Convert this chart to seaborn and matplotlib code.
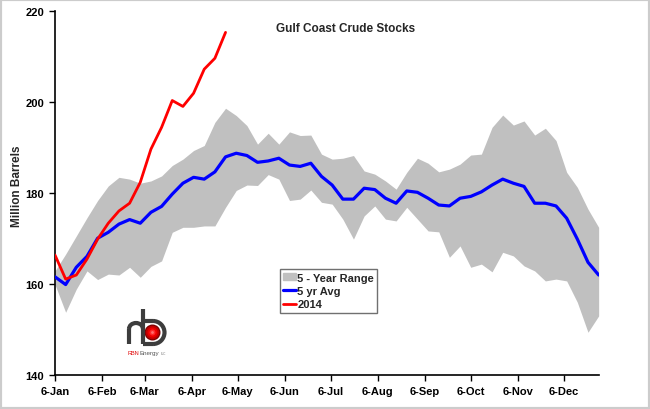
import matplotlib
matplotlib.use("Agg")
import matplotlib.pyplot as plt
import matplotlib.patches as mpatches
import matplotlib.dates as mdates
from matplotlib.lines import Line2D
import seaborn as sns
import pandas as pd

# ---------------------------------------------------------------
# data (weekly, million barrels)
# ---------------------------------------------------------------
weeks = pd.date_range("2014-01-06", periods=52, freq="7D")

range_low = [159.8, 153.7, 158.8, 162.8, 160.9, 162.1, 161.9, 163.6, 161.4, 163.8,
             165.0, 171.3, 172.4, 172.4, 172.7, 172.7, 176.8, 180.5, 181.7, 181.6,
             184.0, 183.0, 178.3, 178.6, 180.6, 177.9, 177.5, 174.2, 169.8, 174.9,
             177.1, 174.2, 173.8, 176.8, 174.2, 171.6, 171.4, 165.8, 168.3, 163.6,
             164.3, 162.6, 166.9, 166.1, 163.9, 162.8, 160.6, 161.0, 160.6, 155.9,
             149.3, 152.9]

range_high = [162.8, 166.5, 170.5, 174.5, 178.3, 181.5, 183.4, 183.0, 182.1, 182.6,
              183.7, 186.0, 187.4, 189.3, 190.4, 195.5, 198.6, 197.0, 194.8, 190.7,
              193.1, 190.7, 193.4, 192.6, 192.7, 188.5, 187.4, 187.6, 188.2, 184.8,
              184.1, 182.6, 180.8, 184.5, 187.6, 186.5, 184.6, 185.2, 186.3, 188.3,
              188.5, 194.4, 197.1, 194.9, 195.8, 192.7, 194.2, 191.5, 184.5, 181.2,
              176.4, 172.4]

avg_5yr = [161.5, 159.8, 163.6, 166.0, 170.0, 171.3, 173.1, 174.1, 173.3, 175.7,
           177.0, 179.7, 182.1, 183.4, 183.0, 184.6, 187.9, 188.7, 188.2, 186.7,
           187.0, 187.6, 186.1, 185.8, 186.5, 183.6, 181.7, 178.6, 178.6, 181.0,
           180.7, 178.8, 177.7, 180.4, 180.1, 178.8, 177.3, 177.1, 178.8, 179.2,
           180.2, 181.7, 183.0, 182.1, 181.4, 177.7, 177.7, 177.1, 174.4, 169.8,
           164.7, 161.9]

stocks_2014 = [166.3, 161.0, 161.9, 165.4, 169.8, 173.3, 176.0, 177.7, 182.3, 189.6,
               194.4, 200.3, 199.0, 201.9, 207.2, 209.6, 215.3]

month_ticks = pd.date_range("2014-01-06", periods=12, freq=pd.DateOffset(months=1))
y_ticks = [140, 160, 180, 200, 220]

df_avg = pd.DataFrame({"week": weeks, "stocks": avg_5yr})
df_2014 = pd.DataFrame({"week": weeks[:len(stocks_2014)], "stocks": stocks_2014})

# ---------------------------------------------------------------
# style
# ---------------------------------------------------------------
sns.set_style("ticks")
plt.rcParams.update({
    "font.family": ["Liberation Sans", "DejaVu Sans"],
    "font.weight": "bold",
    "axes.linewidth": 1.2,
    "xtick.major.width": 1.0,
    "ytick.major.width": 1.0,
    "xtick.major.size": 4,
    "ytick.major.size": 4,
    "xtick.direction": "out",
    "ytick.direction": "out",
})

fig = plt.figure(figsize=(6.5, 4.1), dpi=100)
ax = fig.add_axes([0.0846, 0.0841, 0.8364, 0.8866])

BAND = "#c0c0c0"
ax.fill_between(weeks, range_low, range_high, color=BAND, lw=0, zorder=1)
sns.lineplot(data=df_avg, x="week", y="stocks", color="#0000ff", lw=2.3, ax=ax, zorder=3)
sns.lineplot(data=df_2014, x="week", y="stocks", color="#ff0000", lw=2.0, ax=ax, zorder=4)

ax.set_xlim(weeks[0], weeks[-1])
ax.set_ylim(140, 220)
ax.set_yticks(y_ticks)
ax.set_xticks(month_ticks)
ax.xaxis.set_major_formatter(mdates.DateFormatter("%-d-%b"))
ax.tick_params(axis="both", labelsize=8, colors="black", pad=4)
for lbl in ax.get_xticklabels() + ax.get_yticklabels():
    lbl.set_fontweight("bold")

ax.set_xlabel("")
ax.set_ylabel("Million Barrels", fontsize=8.5, fontweight="bold")
ax.yaxis.set_label_coords(-0.058, 0.52)
sns.despine(ax=ax)
ax.spines["left"].set_color("black")
ax.spines["bottom"].set_color("black")

ax.text(0.535, 0.953, "Gulf Coast Crude Stocks", transform=ax.transAxes,
        ha="center", va="center", fontsize=8.5, fontweight="bold")

handles = [
    mpatches.Patch(color=BAND, label="5 - Year Range"),
    Line2D([], [], color="#0000ff", lw=2.3, label="5 yr Avg"),
    Line2D([], [], color="#ff0000", lw=2.0, label="2014"),
]
leg = ax.legend(handles=handles, loc="lower left", bbox_to_anchor=(0.413, 0.17),
                borderaxespad=0, fontsize=8, frameon=True, fancybox=False,
                framealpha=1, edgecolor="#707070", handlelength=1.2,
                handleheight=0.6, handletextpad=0.1, borderpad=0.3,
                labelspacing=0.3)
leg.get_frame().set_linewidth(1.0)
for t in leg.get_texts():
    t.set_fontweight("bold")

# ---------------------------------------------------------------
# RBN logo (rough)
# ---------------------------------------------------------------
lax = fig.add_axes([125 / 650, 1 - 360 / 410, 48 / 650, 52 / 410])
lax.set_xlim(0, 48)
lax.set_ylim(0, 52)
lax.set_aspect("equal")
lax.axis("off")
DARK = "#3d3d3d"
lax.plot([18, 18], [15, 50], color=DARK, lw=3, solid_capstyle="butt")
lax.plot([4, 4], [15, 30], color=DARK, lw=3, solid_capstyle="butt")
lax.add_patch(mpatches.Arc((11, 30), 14, 12, theta1=0, theta2=180, color=DARK, lw=3))
lax.plot([18, 28], [38, 38], color=DARK, lw=3, solid_capstyle="butt")
lax.plot([18, 28], [15, 15], color=DARK, lw=3, solid_capstyle="butt")
lax.add_patch(mpatches.Arc((28, 26.5), 23, 23, theta1=-90, theta2=90, color=DARK, lw=3))
for r, c in [(8, "#7a0000"), (6.8, "#c00000"), (5, "#ee0000"), (3, "#ff2a2a"), (1.4, "#ff7070")]:
    lax.add_patch(mpatches.Circle((27.5, 26.5), r, color=c, lw=0))
lax.text(3, 6, "RBN", color="#e00000", fontsize=4, fontweight="normal", va="center")
lax.text(14, 6, "Energy", color="#555555", fontsize=4.5, fontweight="normal", va="center")
lax.text(36, 5.5, "LLC", color="#777777", fontsize=2.2, fontweight="normal", va="center")

# gray frame around the picture
fig.patches.append(mpatches.Rectangle((0, 0), 1, 1, transform=fig.transFigure,
                                      fill=False, edgecolor="#cccccc", lw=3))

fig.savefig("out.png", dpi=100, facecolor="white")
